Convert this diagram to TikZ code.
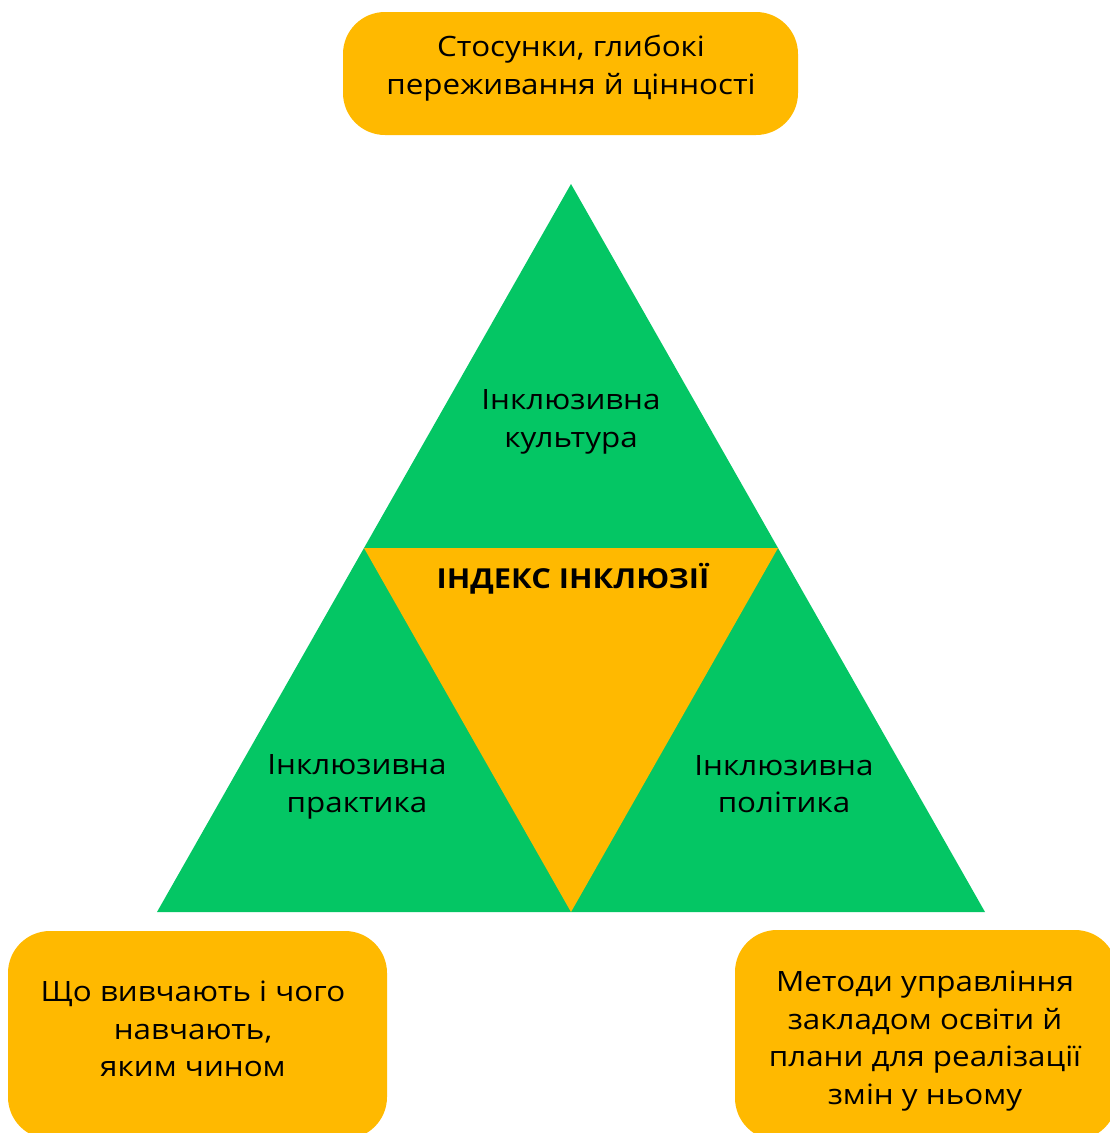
\documentclass[tikz,border=0pt]{standalone}
\usepackage{fontspec}
\setmainfont{Open Sans}[FakeStretch=1.12]
\usepackage{tikz}
\usetikzlibrary{positioning}

\definecolor{boxorange}{HTML}{FFB900}
\definecolor{trigreen}{HTML}{04C664}

\begin{document}
\begin{tikzpicture}[
                x=1pt,
                y=-1pt,
                note/.style={fill=boxorange, rounded corners=42pt},
                label/.style={align=center, font=\fontsize{28}{37.5}\selectfont}]
            \useasboundingbox (0,0) rectangle (1110,1133);
            \clip (0,0) rectangle (1110,1133);

            % corners of the big triangle and of the inner one
            \coordinate (apex)  at (571,184);
            \coordinate (bl)    at (157,912);
            \coordinate (br)    at (985,912);
            \coordinate (ml)    at (364,548);
            \coordinate (mr)    at (778,548);
            \coordinate (mb)    at (571,912);

            \fill[trigreen]   (apex) -- (br) -- (bl) -- cycle;
            \fill[boxorange]  (ml) -- (mr) -- (mb) -- cycle;

            % the three boxes
            \node[note, minimum width=455pt, minimum height=123pt] (values)   at (570.5,73.5) {};
            \node[note, minimum width=379pt, minimum height=208pt] (teach)    at (197.5,1035) {};
            \node[note, minimum width=382pt, minimum height=210pt] (manage)   at (926,1035)   {};

            \node[label] (valuestext) at (571,68)   {Стосунки, глибокі\\переживання й цінності};
            \node[label] (teachtext)  at (193,1029) {Що вивчають і чого\\навчають,\\яким чином};
            \node[label] (managetext) at (925,1041) {Методи управління\\закладом освіти й\\плани для реалізації\\змін у ньому};

            \node[label] (culture)  at (571,422)  {Інклюзивна\\культура};
            \node[label] (practice) at (357,787)  {Інклюзивна\\практика};
            \node[label] (policy)   at (784,784)  {Інклюзивна\\політика};
            \node[font=\fontsize{27.5}{30}\selectfont\bfseries] (index) at (573,579)
                {ІНДЕКС ІНКЛЮЗІЇ};
        \end{tikzpicture}
\end{document}
